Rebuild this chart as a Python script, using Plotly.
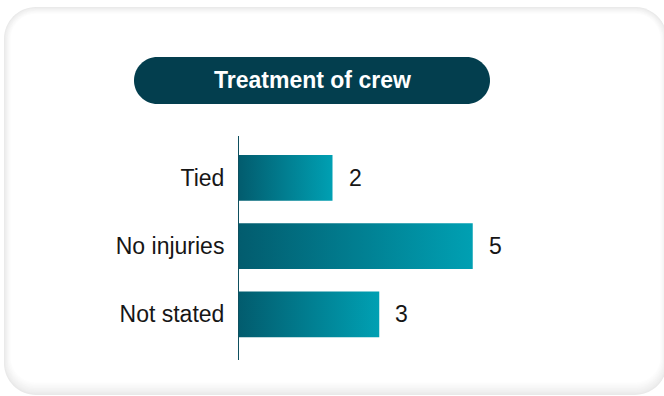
import plotly.graph_objects as go

# Chart data
categories = ["Tied", "No injuries", "Not stated"]
values = [2, 5, 3]
title_text = "Treatment of crew"

# Figure geometry (pixels)
W, H = 664, 396
ML, MR, MT, MB = 239, 44, 136, 36
PW, PH = W - ML - MR, H - MT - MB
X_MAX = 8.15
Y_RANGE = [2.67, -0.612]
BAR_HALF = 0.335

DARK = "#025c6e"
LIGHT = "#00a0b3"
TEXT = "#161616"
FONT = "Liberation Sans, Arial, Helvetica, sans-serif"


def to_paper(px, py):
    return (px - ML) / PW, (MT + PH - py) / PH


def rounded_path(x0, y0, x1, y1, r):
    k = 0.5523 * r
    pts = [
        ("M", [(x0 + r, y0)]),
        ("L", [(x1 - r, y0)]),
        ("C", [(x1 - r + k, y0), (x1, y0 + r - k), (x1, y0 + r)]),
        ("L", [(x1, y1 - r)]),
        ("C", [(x1, y1 - r + k), (x1 - r + k, y1), (x1 - r, y1)]),
        ("L", [(x0 + r, y1)]),
        ("C", [(x0 + r - k, y1), (x0, y1 - r + k), (x0, y1 - r)]),
        ("L", [(x0, y0 + r)]),
        ("C", [(x0, y0 + r - k), (x0 + r - k, y0), (x0 + r, y0)]),
    ]
    parts = []
    for cmd, coords in pts:
        s = " ".join("%.5f,%.5f" % to_paper(x, y) for x, y in coords)
        parts.append(cmd + " " + s)
    return " ".join(parts) + " Z"


shapes = []
# Card with a soft grey edge fading to white
n_layers = 9
for i in range(n_layers + 1):
    t = i / n_layers
    g = int(round(233 + (255 - 233) * (t ** 0.8)))
    inset = i * 0.75
    inset_b = i * 1.4
    shapes.append(dict(
        type="path", xref="paper", yref="paper", layer="below",
        path=rounded_path(4 + inset, 7 + inset, 667 - inset, 395 - inset_b, max(32 - inset, 10)),
        fillcolor="rgb(%d,%d,%d)" % (g, g, g), line=dict(width=0),
    ))

# Title pill
shapes.append(dict(
    type="path", xref="paper", yref="paper", layer="below",
    path=rounded_path(134, 57, 490, 104, 23.5),
    fillcolor="#033e4e", line=dict(width=0),
))

fig = go.Figure()

# Bars as filled polygons with a left-to-right gradient
for i, (cat, v) in enumerate(zip(categories, values)):
    fig.add_trace(go.Scatter(
        x=[0, v, v, 0, 0],
        y=[i - BAR_HALF, i - BAR_HALF, i + BAR_HALF, i + BAR_HALF, i - BAR_HALF],
        mode="lines", fill="toself",
        fillgradient=dict(type="horizontal", colorscale=[[0, DARK], [1, LIGHT]]),
        line=dict(width=0), hoverinfo="skip", showlegend=False, name=cat,
    ))

annotations = []
for i, v in enumerate(values):
    annotations.append(dict(
        x=v, y=i, xref="x", yref="y", text=str(v), showarrow=False,
        xanchor="left", yanchor="middle", xshift=14,
        font=dict(size=23, color=TEXT, family=FONT),
    ))

tx, ty = to_paper(312, 80.5)
annotations.append(dict(
    x=tx, y=ty, xref="paper", yref="paper", text=title_text, showarrow=False,
    xanchor="center", yanchor="middle",
    font=dict(size=23, color="white", family=FONT, weight="bold"),
))

fig.update_layout(
    width=W, height=H,
    margin=dict(l=ML, r=MR, t=MT, b=MB),
    paper_bgcolor="white", plot_bgcolor="rgba(0,0,0,0)",
    shapes=shapes, annotations=annotations,
    xaxis=dict(range=[0, X_MAX], visible=False, fixedrange=True),
    yaxis=dict(
        range=Y_RANGE, tickvals=list(range(len(categories))), ticktext=categories,
        showgrid=False, zeroline=False, showline=True, linecolor="#0e4f5e", linewidth=1,
        ticks="", ticklabelstandoff=9,
        tickfont=dict(size=23, color=TEXT, family=FONT), fixedrange=True,
    ),
)

fig.write_html("out.html")
